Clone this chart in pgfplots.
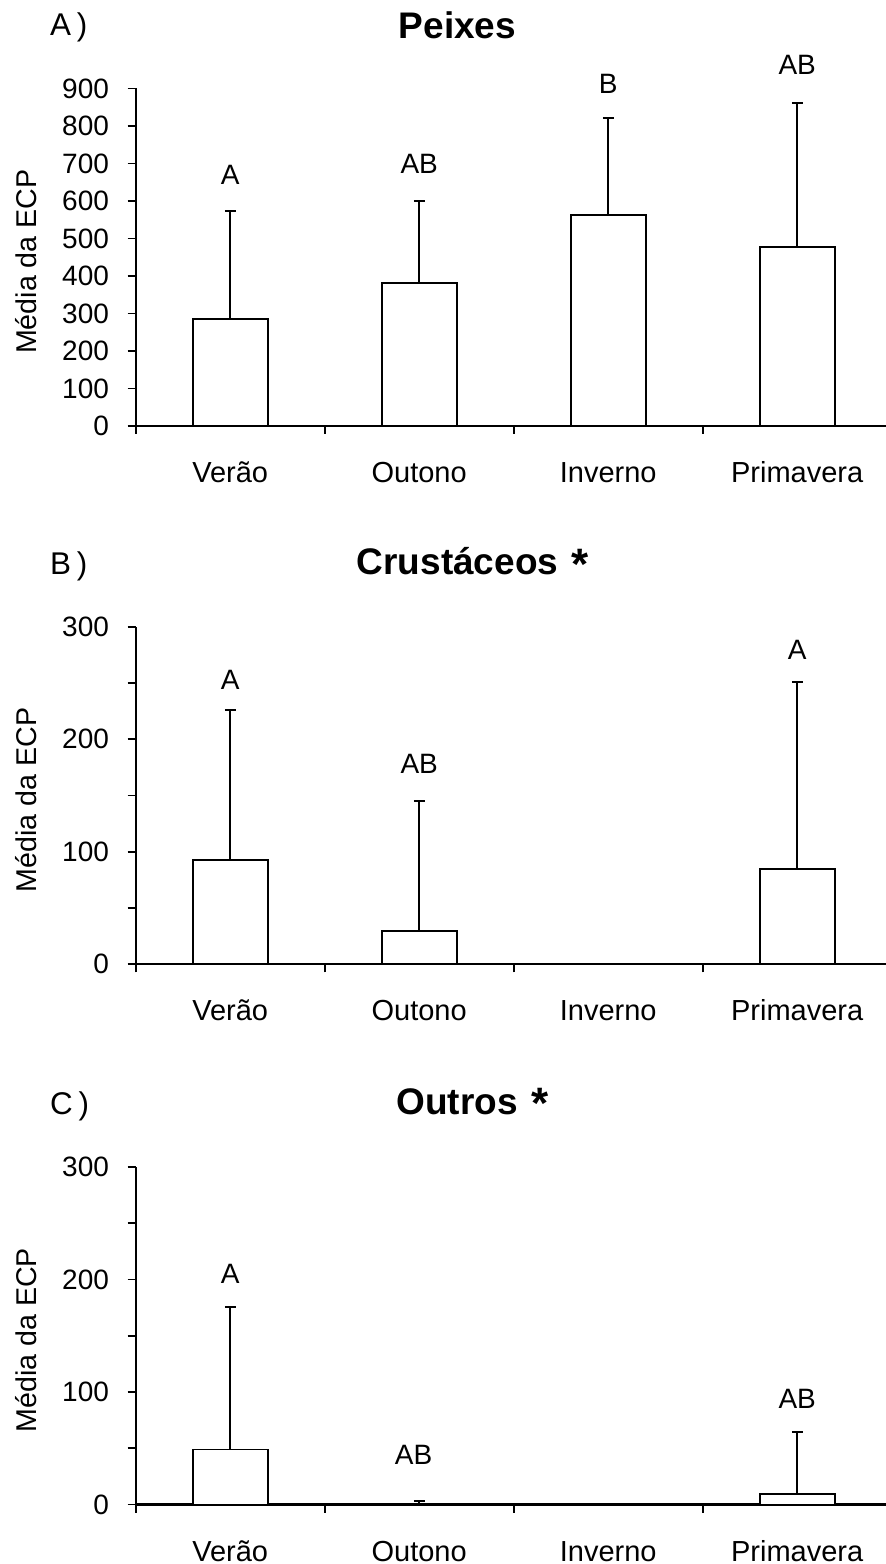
\documentclass[border=0pt]{standalone}
\usepackage{fontspec}
\setmainfont{Liberation Sans}
\usepackage{pgfplots}
\pgfplotsset{compat=1.18}

\pgfplotstableread{
x  y    ep
0  284.5 288
1  381   220
2  562   260
3  478   382.5
}\peixes
\pgfplotstableread{
x  y    ep
0  92.7  133.3
1  29.3  115.7
3  84.7  166.3
}\crust
\pgfplotstableread{
x  y    ep
0  48.9  126.7
1  0.3   2.7
3  9.2   55.4
}\outros

\pgfplotsset{
  panel/.style={
    scale only axis, width=375.15pt, height=168.75pt,
    anchor=south west,
    xmin=-0.5, xmax=3.470,
    ymin=0,
    axis lines=left,
    axis line style={-, line width=1.1pt, black},
    xtick={0,1,2,3},
    xticklabels={Verão,Outono,Inverno,Primavera},
    minor xtick={-0.5,0.5,1.5,2.5,3.5},
    major x tick style={draw=none},
    tick align=outside,
    major tick length=4pt, minor tick length=4pt,
    every tick/.append style={black, line width=0.9pt},
    tick label style={font=\fontsize{14}{14}\selectfont},
    xticklabel style={anchor=base, yshift=-24.35pt, font=\fontsize{14.5}{14.5}\selectfont},
    yticklabel style={anchor=east, xshift=-5.85pt},
    /pgf/number format/assume math mode=true,
    clip=false,
  },
  bars/.style={ybar, bar shift=0pt, bar width=37.5pt, fill=white, draw=black, line width=0.9pt,
    error bars/.cd, y dir=plus, y explicit,
    error bar style={line width=0.9pt, black},
    error mark options={line width=0.9pt, mark size=2.7pt, black, rotate=90}},
}

\begin{document}
\begin{tikzpicture}
\useasboundingbox (0pt,0pt) rectangle (443pt,782pt);

% Panel A
\begin{axis}[panel, at={(67.85pt,569pt)}, ymax=900, ytick={0,100,...,900}]
\addplot[bars] table[x=x, y=y, y error plus=ep] {\peixes};
\node[font=\fontsize{14}{14}\selectfont] at (axis cs:0,669) {A};
\node[font=\fontsize{14}{14}\selectfont] at (axis cs:1,700) {AB};
\node[font=\fontsize{14}{14}\selectfont] at (axis cs:2,912) {B};
\node[font=\fontsize{14}{14}\selectfont] at (axis cs:3,963) {AB};
\end{axis}

% Panel B
\begin{axis}[panel, at={(67.85pt,299.85pt)}, ymax=300, ytick={0,100,200,300}, minor ytick={50,150,250}]
\addplot[bars] table[x=x, y=y, y error plus=ep] {\crust};
\node[font=\fontsize{14}{14}\selectfont] at (axis cs:0,252.6) {A};
\node[font=\fontsize{14}{14}\selectfont] at (axis cs:1,178.6) {AB};
\node[font=\fontsize{14}{14}\selectfont] at (axis cs:3,279.2) {A};
\end{axis}

% Panel C
\begin{axis}[panel, at={(67.85pt,29.75pt)}, ymax=300, ytick={0,100,200,300}, minor ytick={50,150,250}]
\addplot[bars] table[x=x, y=y, y error plus=ep] {\outros};
\node[font=\fontsize{14}{14}\selectfont] at (axis cs:0,205) {A};
\node[font=\fontsize{14}{14}\selectfont] at (axis cs:0.97,44.4) {AB};
\node[font=\fontsize{14}{14}\selectfont] at (axis cs:3,93.5) {AB};
\end{axis}

% titles
\node[anchor=base, font=\fontsize{18.5}{18.5}\selectfont\bfseries] at (228.75pt,762.5pt) {Peixes};
\node[anchor=base, font=\fontsize{18.5}{18.5}\selectfont\bfseries] at (228.75pt,494.5pt) {Crustáceos};
\node[anchor=base, font=\fontsize{18.5}{18.5}\selectfont\bfseries] at (228.6pt,224.85pt) {Outros};
\node[anchor=north west, inner sep=0pt, font=\fontsize{22}{22}\selectfont\bfseries] at (285.6pt,507.5pt) {*};
\node[anchor=north west, inner sep=0pt, font=\fontsize{22}{22}\selectfont\bfseries] at (265.3pt,237.85pt) {*};

% panel letters
\node[anchor=base west, inner sep=0pt, font=\fontsize{15.7}{15.7}\selectfont] at (24.8pt,764pt) {A\hspace{3pt})};
\node[anchor=base west, inner sep=0pt, font=\fontsize{15.7}{15.7}\selectfont] at (24.8pt,494.85pt) {B\hspace{3pt})};
\node[anchor=base west, inner sep=0pt, font=\fontsize{15.7}{15.7}\selectfont] at (24.8pt,224.75pt) {C\hspace{3pt})};

% y labels
\node[rotate=90, anchor=base, font=\fontsize{14.3}{14.3}\selectfont] at (18.35pt,651.15pt) {Média da ECP};
\node[rotate=90, anchor=base, font=\fontsize{14.3}{14.3}\selectfont] at (18.35pt,382.0pt) {Média da ECP};
\node[rotate=90, anchor=base, font=\fontsize{14.3}{14.3}\selectfont] at (18.35pt,111.9pt) {Média da ECP};
\end{tikzpicture}
\end{document}
